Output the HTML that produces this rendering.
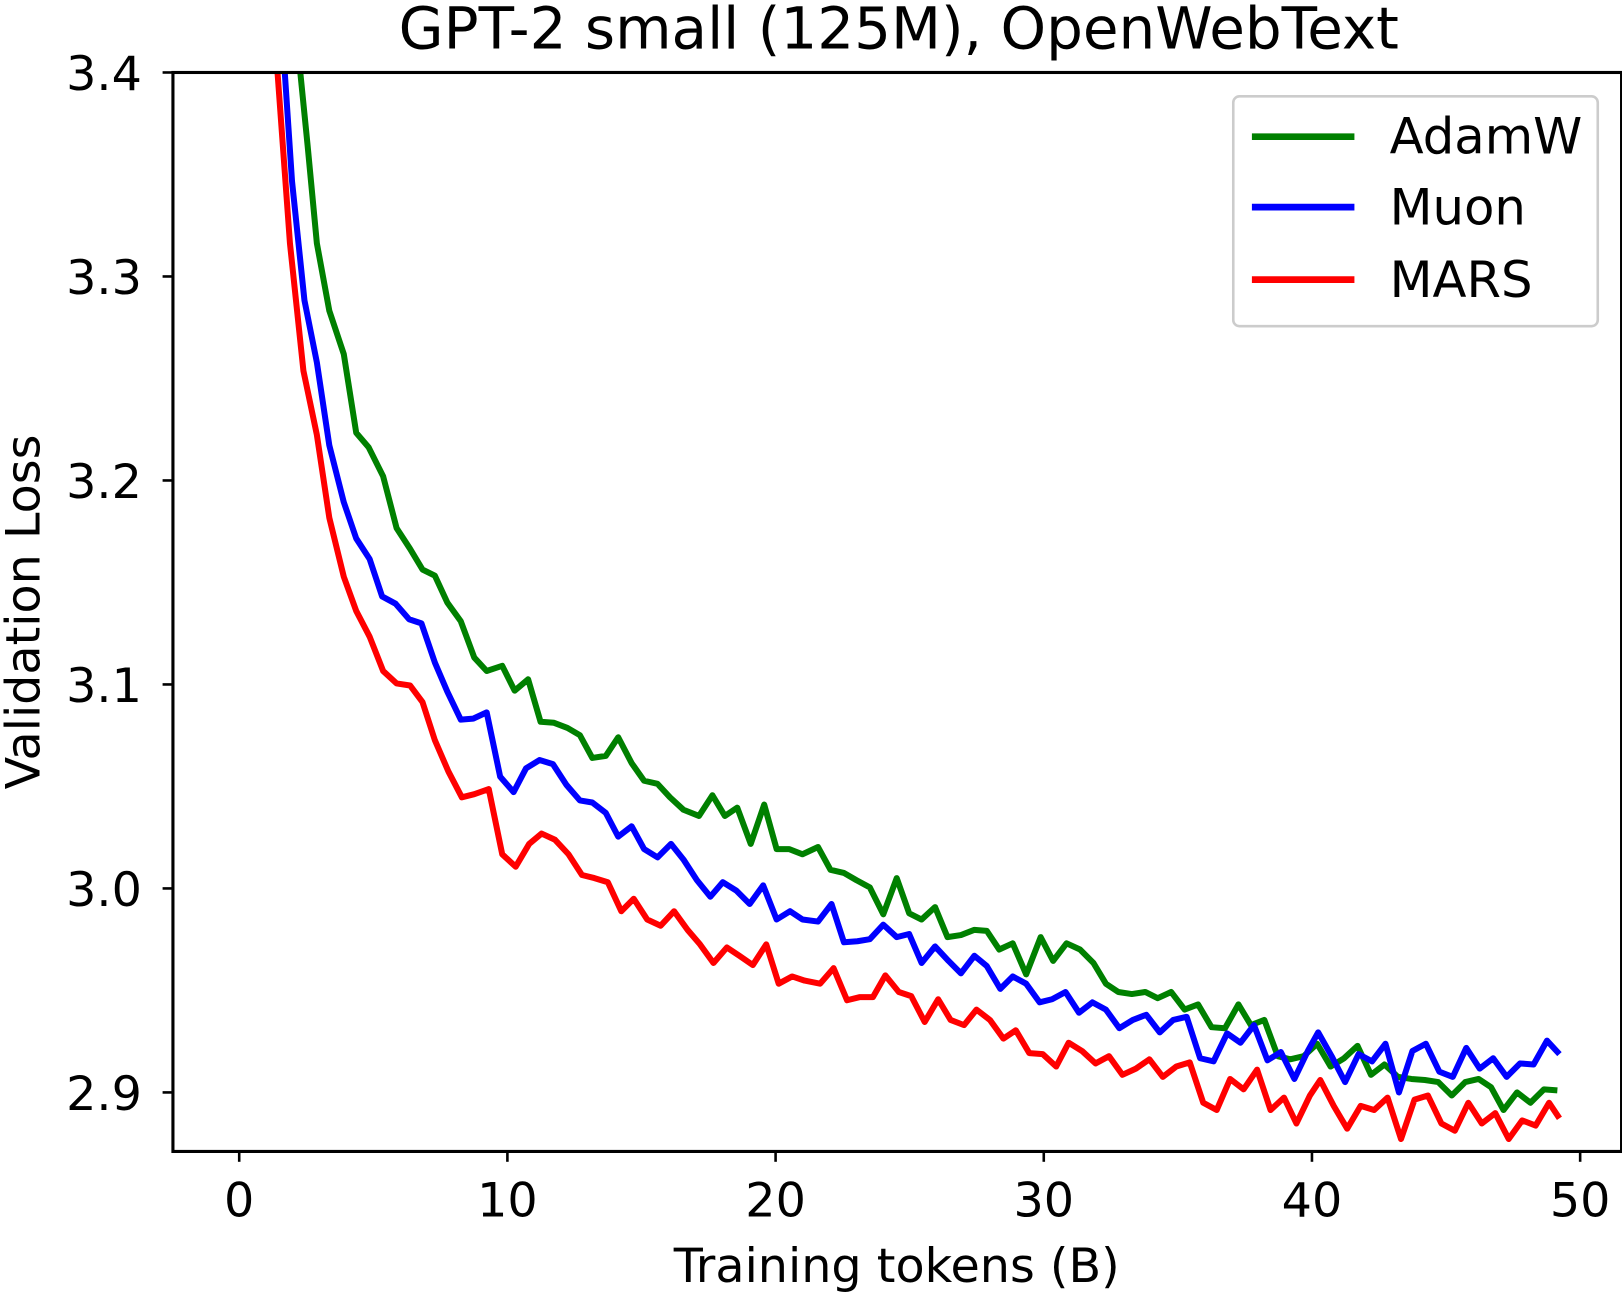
<!DOCTYPE html>
<html><head><style>body{margin:0;background:#fff}</style></head><body>
<svg width="1622" height="1293" viewBox="0 0 1566.4 1248.7" xmlns="http://www.w3.org/2000/svg" font-family="DejaVu Sans, Liberation Sans, sans-serif">
<defs><clipPath id="c"><rect x="167" y="70" width="1399" height="1042"/></clipPath></defs>
<g clip-path="url(#c)" fill="none" stroke-width="5.8" stroke-linejoin="round">
<polyline stroke="#008000" points="290,70 297,140 306,235 318,300 332,342 344,418 356,432 370,460 383,510 396,530 408,550 420,556 432,582 445,600 458,635 470,648 485,643 497,667 510,656 522,697 535,698 548,703 560,710 572,732 585,730 597,712 610,737 622,754 635,757 647,770 660,782 675,788 688,768 700,788 712,780 725,815 738,777 750,820 762,820 775,825 790,818 802,840 815,843 827,850 840,857 853,883 866,848 878,882 890,888 903,876 915,905 928,903 941,898 953,899 965,917 978,911 991,941 1005,905 1017,928 1030,911 1043,917 1056,930 1068,950 1080,958 1093,960 1106,958 1118,964 1131,958 1144,975 1157,970 1170,992 1183,993 1196,970 1208,990 1221,985 1234,1020 1246,1023 1259,1020 1272,1008 1285,1030 1298,1022 1311,1010 1324,1038 1337,1028 1350,1040 1363,1042 1376,1043 1389,1045 1402,1058 1415,1045 1428,1042 1440,1050 1452,1072 1465,1055 1478,1065 1491,1052 1504,1053"/>
<polyline stroke="#0000ff" points="275,70 282,175 294,290 306,350 318,430 332,485 344,520 357,540 369,576 382,583 395,598 407,602 420,640 432,668 445,695 457,694 470,688 483,750 496,765 508,742 521,734 534,738 547,758 560,773 572,775 585,785 597,808 610,798 622,820 635,828 648,815 660,830 673,850 686,866 698,852 711,860 724,873 737,855 750,888 763,880 775,888 790,890 803,873 815,910 828,909 840,907 853,893 866,905 878,902 890,930 903,914 916,928 928,940 941,923 953,933 966,955 978,943 991,950 1004,968 1016,965 1029,958 1042,978 1055,968 1068,975 1081,993 1094,985 1107,980 1120,997 1133,985 1146,982 1159,1022 1172,1025 1185,998 1198,1007 1211,990 1224,1024 1237,1016 1250,1042 1263,1015 1273,997 1286,1020 1299,1045 1312,1018 1325,1025 1338,1008 1351,1055 1364,1015 1377,1008 1390,1035 1403,1040 1416,1012 1429,1032 1442,1022 1455,1040 1468,1027 1481,1028 1494,1005 1506,1018"/>
<polyline stroke="#ff0000" points="268,70 280,235 293,358 306,420 318,500 332,557 344,590 357,615 370,648 383,660 396,662 408,678 420,715 433,745 446,770 458,767 472,762 485,825 498,837 511,815 523,805 536,811 549,825 562,845 574,848 587,852 600,880 612,868 625,888 638,894 651,880 664,898 676,912 689,930 702,915 714,923 727,932 740,912 752,950 765,943 777,947 792,950 805,935 818,966 830,963 843,963 855,942 868,958 880,962 893,987 906,965 918,985 931,990 943,975 956,985 969,1003 981,995 994,1017 1007,1018 1020,1030 1032,1007 1045,1015 1058,1027 1071,1020 1084,1038 1097,1032 1110,1023 1123,1040 1136,1030 1149,1026 1162,1065 1175,1072 1188,1042 1201,1052 1214,1033 1227,1072 1240,1060 1252,1085 1265,1058 1275,1043 1288,1068 1301,1090 1314,1068 1327,1072 1340,1060 1353,1100 1366,1062 1379,1058 1392,1085 1405,1092 1418,1065 1431,1085 1444,1075 1457,1100 1470,1082 1483,1087 1496,1065 1506,1080"/>
</g>
<rect x="167" y="70" width="1399" height="1042" fill="none" stroke="#000" stroke-width="3"/>
<g stroke="#000" stroke-width="2.5">
<line x1="231" y1="1112" x2="231" y2="1122"/><line x1="490" y1="1112" x2="490" y2="1122"/><line x1="749" y1="1112" x2="749" y2="1122"/><line x1="1008" y1="1112" x2="1008" y2="1122"/><line x1="1267" y1="1112" x2="1267" y2="1122"/><line x1="1526" y1="1112" x2="1526" y2="1122"/>
<line x1="157" y1="70" x2="167" y2="70"/><line x1="157" y1="267" x2="167" y2="267"/><line x1="157" y1="464" x2="167" y2="464"/><line x1="157" y1="661" x2="167" y2="661"/><line x1="157" y1="858" x2="167" y2="858"/><line x1="157" y1="1055" x2="167" y2="1055"/>
</g>
<g font-size="46" text-anchor="middle">
<text x="231" y="1175">0</text><text x="490" y="1175">10</text><text x="749" y="1175">20</text><text x="1008" y="1175">30</text><text x="1267" y="1175">40</text><text x="1526" y="1175">50</text>
</g>
<g font-size="46" text-anchor="end">
<text x="137" y="87">3.4</text><text x="137" y="284">3.3</text><text x="137" y="481">3.2</text><text x="137" y="678">3.1</text><text x="137" y="875">3.0</text><text x="137" y="1072">2.9</text>
</g>
<text x="866" y="1238" font-size="46" text-anchor="middle">Training tokens (B)</text>
<text transform="translate(38,591) rotate(-90)" font-size="46" text-anchor="middle">Validation Loss</text>
<text x="868" y="47" font-size="56" text-anchor="middle">GPT-2 small (125M), OpenWebText</text>
<rect x="1191" y="93" width="352" height="222" rx="6" fill="#fff" stroke="#ccc" stroke-width="2.5"/>
<g stroke-width="6.5"><line x1="1209" y1="132" x2="1308" y2="132" stroke="#008000"/><line x1="1209" y1="200" x2="1308" y2="200" stroke="#0000ff"/><line x1="1209" y1="270" x2="1308" y2="270" stroke="#ff0000"/></g>
<g font-size="48"><text x="1342" y="148">AdamW</text><text x="1342" y="217">Muon</text><text x="1342" y="287">MARS</text></g>
</svg>
</body></html>
